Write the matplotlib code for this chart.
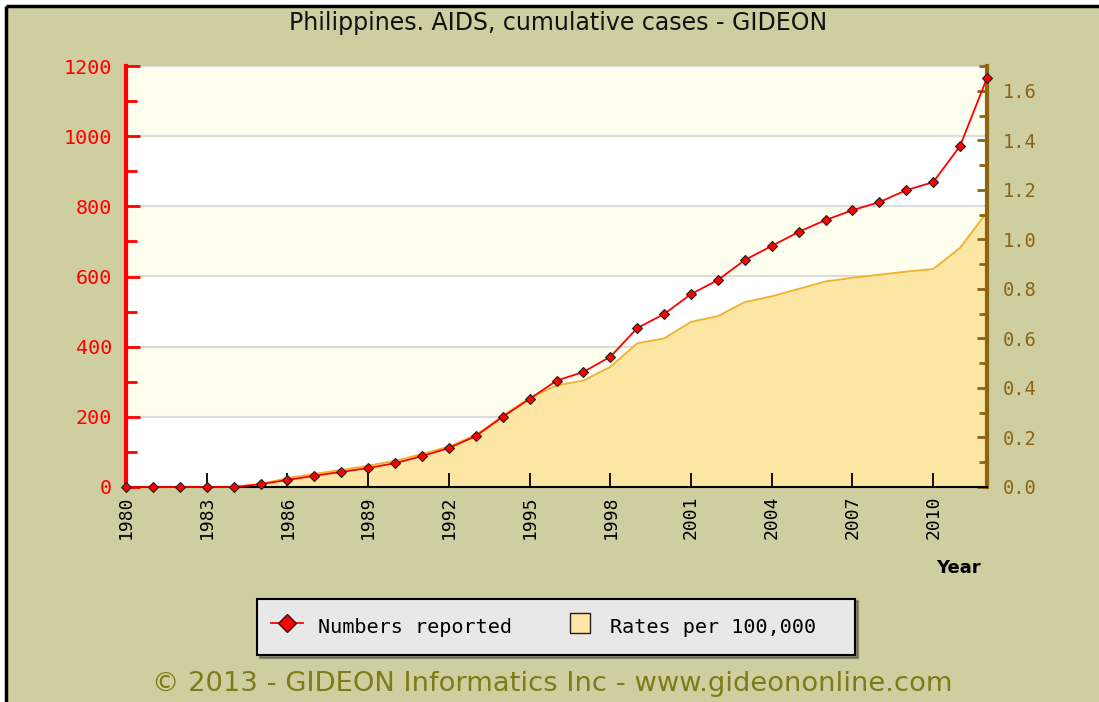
import matplotlib
matplotlib.use("Agg")
import matplotlib.pyplot as plt
from matplotlib.lines import Line2D
from matplotlib.patches import Rectangle
from matplotlib.ticker import MultipleLocator

#-------data-------
years = list(range(1980, 2013))
numbers = [0, 0, 0, 0, 0, 8, 20, 32, 43, 54, 68, 88, 111, 145, 200, 251,
           303, 328, 371, 453, 493, 550, 590, 647, 687, 727, 761, 789,
           812, 846, 869, 972, 1166]
rates = [0, 0, 0, 0, 0, 0.012, 0.036, 0.053, 0.069, 0.086, 0.106, 0.133,
         0.163, 0.21, 0.287, 0.36, 0.41, 0.43, 0.485, 0.58, 0.60, 0.667,
         0.69, 0.747, 0.77, 0.80, 0.83, 0.845, 0.857, 0.87, 0.88, 0.966, 1.11]
xticks = list(range(1980, 2011, 3))
num_ticks = [0, 200, 400, 600, 800, 1000, 1200]
rate_ticks = [0.0, 0.2, 0.4, 0.6, 0.8, 1.0, 1.2, 1.4, 1.6]

title = "Philippines. AIDS, cumulative cases - GIDEON"
footer = "\u00a9 2013 - GIDEON Informatics Inc - www.gideononline.com"

#-------colors-------
bg = "#CFCEA0"
red = "#FF0000"
brown = "#8C6414"
fill_col = "#FBE6A4"
fill_edge = "#F0B030"
band_col = "#FEFEEE"
mono = "DejaVu Sans Mono"

fig = plt.figure(figsize=(10.99, 7.02), dpi=100)
fig.patch.set_facecolor("white")
# beige panel with black border top/left
x0 = 6 / 1099
y1 = 1 - 6 / 702
fig.patches.append(Rectangle((x0, 0), 1 - x0, y1, transform=fig.transFigure,
                             facecolor=bg, edgecolor="none", zorder=-10))
fig.lines.append(Line2D([x0, 1.0], [y1, y1], transform=fig.transFigure,
                        color="black", lw=2.5, solid_capstyle="butt"))
fig.lines.append(Line2D([x0, x0], [0, y1], transform=fig.transFigure,
                        color="black", lw=2.5, solid_capstyle="butt"))

ax = fig.add_axes([126 / 1099, 1 - 487 / 702, (987 - 126) / 1099, (487 - 66) / 702])
ax2 = ax.twinx()
ax.set_zorder(3)
ax2.set_zorder(2)
ax.patch.set_visible(False)
ax2.patch.set_visible(True)
ax2.patch.set_facecolor("white")

ax.set_xlim(1980, 2012)
ax.set_ylim(0, 1200)

# background bands + grid, behind the area fill
ytrans = ax.get_yaxis_transform()
for i in range(len(num_ticks) - 1):
    if i % 2 == 1:
        ax2.add_patch(Rectangle((0, num_ticks[i]), 1, num_ticks[i + 1] - num_ticks[i],
                                transform=ytrans, facecolor=band_col, edgecolor="none", zorder=0))
for v in num_ticks[1:]:
    ax2.add_line(Line2D([0, 1], [v, v], transform=ytrans, color="#DCDCDC", lw=1.5, zorder=0.5))

# rates area
ax2.fill_between(years, rates, 0, facecolor=fill_col, edgecolor="none", zorder=1)
ax2.plot(years, rates, color=fill_edge, lw=1.3, zorder=1.5)
ax2.set_xlim(1980, 2012)
ax2.set_ylim(0, 1.7)

# numbers line
ax.plot(years, numbers, color=red, lw=1.3, marker="D", markersize=5.5,
        markerfacecolor=red, markeredgecolor="#202020", markeredgewidth=0.8,
        clip_on=False, zorder=5)

# spines
ax.spines["top"].set_visible(False)
ax2.spines["top"].set_visible(False)
ax.spines["right"].set_visible(False)
ax2.spines["left"].set_visible(False)
ax2.spines["bottom"].set_visible(False)
ax.spines["left"].set_color(red)
ax.spines["left"].set_linewidth(3)
ax2.spines["right"].set_color(brown)
ax2.spines["right"].set_linewidth(3)
ax.spines["bottom"].set_color("black")
ax.spines["bottom"].set_linewidth(1.5)

# ticks
ax.set_xticks(xticks)
ax.set_xticklabels([str(y) for y in xticks], rotation=90, family=mono, fontsize=13)
ax.tick_params(axis="x", direction="in", length=10, width=1.3, color="black", pad=6)

ax.set_yticks(num_ticks)
ax.set_yticklabels([str(v) for v in num_ticks], family=mono, fontsize=14.5, color=red)
ax.yaxis.set_minor_locator(MultipleLocator(100))
ax.tick_params(axis="y", which="major", direction="in", length=10, width=2, color=red, pad=10)
ax.tick_params(axis="y", which="minor", direction="in", length=8, width=2, color=red)

ax2.set_yticks(rate_ticks)
ax2.set_yticklabels(["%.1f" % v for v in rate_ticks], family=mono, fontsize=13.5, color=brown)
ax2.yaxis.set_minor_locator(MultipleLocator(0.1))
ax2.tick_params(axis="y", which="major", direction="in", length=7, width=2, color=brown, pad=11)
ax2.tick_params(axis="y", which="minor", direction="in", length=6, width=2, color=brown)

# texts
fig.text(0.508, 1 - 23 / 702, title, ha="center", va="center", fontsize=17,
         family="DejaVu Sans", color="#111111")
fig.text(958 / 1099, 1 - 568 / 702, "Year", ha="center", va="center", fontsize=13,
         fontweight="bold", family="DejaVu Sans")
fig.text(552 / 1099, 1 - 684 / 702, footer, ha="center", va="center", fontsize=19.7,
         family="DejaVu Sans", color="#7C7C18")

# legend
handles = [Line2D([], [], color=red, lw=1.3, marker="D", markersize=9,
                  markerfacecolor=red, markeredgecolor="#202020", markeredgewidth=1),
           Line2D([], [], linestyle="none", marker="s", markersize=15,
                  markerfacecolor=fill_col, markeredgecolor="#202020", markeredgewidth=1)]
leg = fig.legend(handles, ["Numbers reported", "Rates per 100,000  "], ncol=2,
                 loc="center", bbox_to_anchor=(556 / 1099, 1 - 627 / 702),
                 prop={"family": mono, "size": 14.5}, frameon=True, fancybox=False,
                 shadow=True, borderpad=0.7, handlelength=1.55, handleheight=1.8,
                 columnspacing=2.6, handletextpad=0.75)
leg.get_frame().set_facecolor("#E8E8E8")
leg.get_frame().set_edgecolor("black")
leg.get_frame().set_linewidth(1.5)

fig.savefig("out.png", dpi=100)
